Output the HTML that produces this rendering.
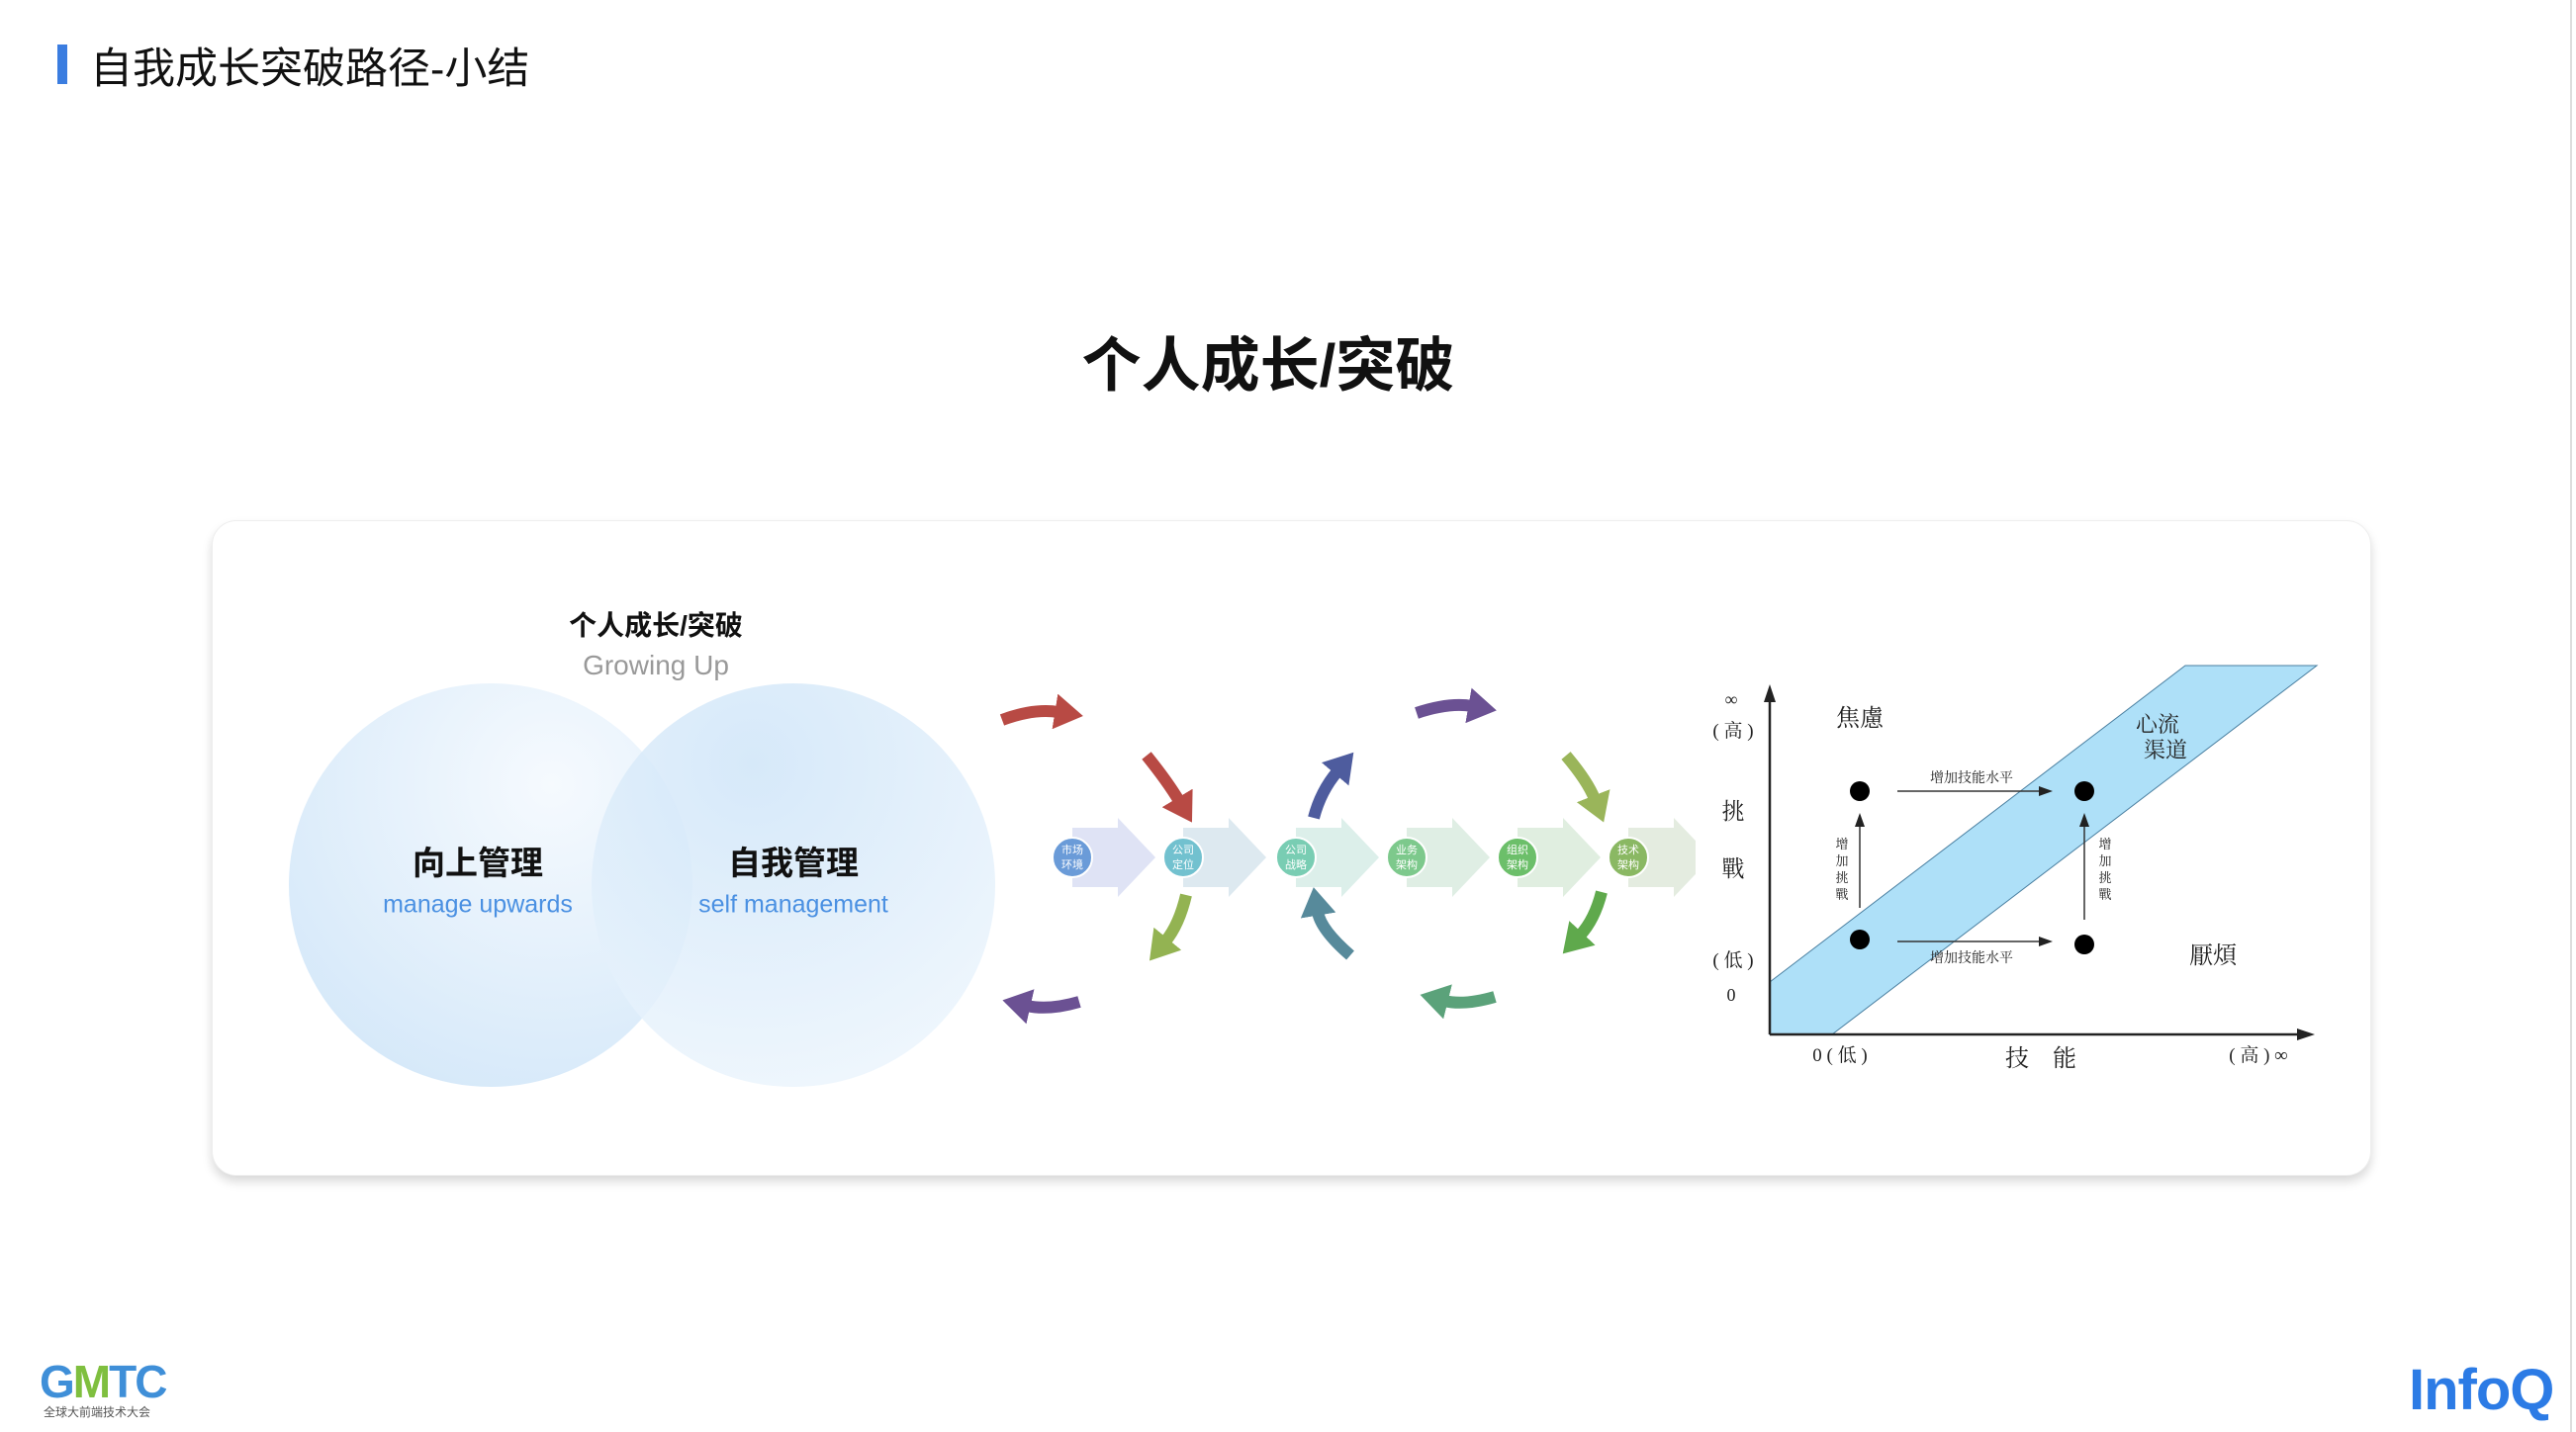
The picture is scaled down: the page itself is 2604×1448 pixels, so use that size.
<!DOCTYPE html>
<html><head><meta charset="utf-8"><style>
body{margin:0;width:2604px;height:1448px;background:#fff;position:relative;overflow:hidden;font-family:"Liberation Sans","Noto Sans CJK SC",sans-serif}
.a{position:absolute;white-space:nowrap}
.c{transform:translate(-50%,-50%)}
</style></head><body>
<div class="a" style="left:58px;top:45px;width:10px;height:40px;background:#3b7de0"></div>
<div class="a" style="left:91px;top:66px;transform:translateY(-50%);font-size:43px;color:#111">自我成长突破路径-小结</div>
<div class="a" style="left:2598px;top:0;width:2px;height:1448px;background:#ddd"></div>
<div class="a c" style="left:1282px;top:365px;font-size:60px;font-weight:bold;color:#111">个人成长/突破</div>
<div class="a" style="left:214px;top:526px;width:2181px;height:661px;border-radius:25px;border:1px solid #eee;box-shadow:0 6px 10px rgba(0,0,0,0.15);background:#fff"></div>
<div class="a" style="left:292px;top:691px;width:408px;height:408px;border-radius:50%;background:radial-gradient(circle at 65% 25%,#f4f9fe,#cfe5f8 80%);opacity:.85"></div>
<div class="a" style="left:598px;top:691px;width:408px;height:408px;border-radius:50%;background:radial-gradient(circle at 40% 20%,#cfe5f8,#eef6fd 90%);opacity:.85"></div>
<div class="a c" style="left:663px;top:631px;font-size:28px;font-weight:bold;color:#111">个人成长/突破</div>
<div class="a c" style="left:663px;top:673px;font-size:28px;color:#999">Growing Up</div>
<div class="a c" style="left:483px;top:870px;font-size:33px;font-weight:bold;color:#111">向上管理</div>
<div class="a c" style="left:483px;top:915px;font-size:25px;color:#4a90e2">manage upwards</div>
<div class="a c" style="left:802px;top:870px;font-size:33px;font-weight:bold;color:#111">自我管理</div>
<div class="a c" style="left:802px;top:915px;font-size:25px;color:#4a90e2">self management</div>

<svg class="a" style="left:0;top:0" width="2604" height="1448" viewBox="0 0 2604 1448">
<defs><marker id="m" markerWidth="2.4" markerHeight="3" refX="0.3" refY="1.5" orient="auto" markerUnits="strokeWidth"><path d="M0,0L2.4,1.5L0,3z" fill="context-stroke"/></marker>
<g id="chev"><path d="M0,837H46V827L84,867L46,907V897H0z"/></g>
<clipPath id="cl"><rect x="0" y="0" width="1714" height="1448"/></clipPath></defs>
<g>
<use href="#chev" x="1084" fill="#dfe3f5"/>
<use href="#chev" x="1196" fill="#dde9f0"/>
<use href="#chev" x="1310" fill="#dcefea"/>
<use href="#chev" x="1422" fill="#dfeee4"/>
<use href="#chev" x="1534" fill="#e0eee0"/>
<g clip-path="url(#cl)"><use href="#chev" x="1646" fill="#e4ece0"/></g>
</g>
<g font-size="11" fill="#fff" text-anchor="middle" font-family="Liberation Sans,Noto Sans CJK SC,sans-serif">
<circle cx="1084" cy="867" r="20" fill="#6a9bd8" stroke="#fff" stroke-width="2"/><text x="1084" y="863">市场</text><text x="1084" y="878">环境</text>
<circle cx="1196" cy="867" r="20" fill="#72c1cf" stroke="#fff" stroke-width="2"/><text x="1196" y="863">公司</text><text x="1196" y="878">定位</text>
<circle cx="1310" cy="867" r="20" fill="#79cdb3" stroke="#fff" stroke-width="2"/><text x="1310" y="863">公司</text><text x="1310" y="878">战略</text>
<circle cx="1422" cy="867" r="20" fill="#7dc98c" stroke="#fff" stroke-width="2"/><text x="1422" y="863">业务</text><text x="1422" y="878">架构</text>
<circle cx="1534" cy="867" r="20" fill="#6cbf6a" stroke="#fff" stroke-width="2"/><text x="1534" y="863">组织</text><text x="1534" y="878">架构</text>
<circle cx="1646" cy="867" r="20" fill="#8ab863" stroke="#fff" stroke-width="2"/><text x="1646" y="863">技术</text><text x="1646" y="878">架构</text>
</g>
<g fill="none" stroke-width="12" marker-end="url(#m)">
<path d="M1013,728Q1045,716 1070,720" stroke="#b84a44"/>
<path d="M1159,764Q1180,790 1192,810" stroke="#b84a44"/>
<path d="M1199,905Q1192,935 1178,952" stroke="#93b352"/>
<path d="M1091,1013Q1060,1022 1038,1017" stroke="#6b5193"/>
<path d="M1328,827Q1335,800 1352,780" stroke="#4e5c9e"/>
<path d="M1365,966Q1335,940 1332,922" stroke="#578a9b"/>
<path d="M1432,721Q1465,710 1488,714" stroke="#6b5193"/>
<path d="M1583,764Q1605,790 1612,808" stroke="#9ab55a"/>
<path d="M1619,902Q1612,930 1597,946" stroke="#5fa94c"/>
<path d="M1511,1008Q1480,1017 1460,1012" stroke="#5ba27a"/>
</g>
<!-- chart -->
<polygon points="1789,993 2209,673 2342,673 1852,1046 1789,1046" fill="#aee0f8" stroke="#4a7fa0" stroke-width="1"/>
<g stroke="#222" stroke-width="2.5" fill="none"><path d="M1789,1046V700"/><path d="M1789,1046H2330"/></g>
<polygon points="1789,692 1783,710 1795,710" fill="#222"/>
<polygon points="2340,1046 2322,1040 2322,1052" fill="#222"/>
<g fill="#000"><circle cx="1880" cy="800" r="10"/><circle cx="2107" cy="800" r="10"/><circle cx="1880" cy="950" r="10"/><circle cx="2107" cy="955" r="10"/></g>
<g stroke="#333" stroke-width="1.5"><path d="M1918,800H2065"/><path d="M1918,952H2065"/><path d="M1880,918V832"/><path d="M2107,930V832"/></g>
<g fill="#222"><polygon points="2075,800 2061,795 2061,805"/><polygon points="2075,952 2061,947 2061,957"/><polygon points="1880,822 1875,836 1885,836"/><polygon points="2107,822 2102,836 2112,836"/></g>
<g font-family="Liberation Serif,Noto Serif CJK SC,serif" fill="#222" text-anchor="middle">
<text x="1880" y="734" font-size="24">焦慮</text>
<text x="2181" y="740" font-size="22">心流</text><text x="2189" y="766" font-size="22">渠道</text>
<text x="2237" y="974" font-size="24">厭煩</text>
<text x="1752" y="828" font-size="23">挑</text><text x="1752" y="886" font-size="23">戰</text>
<text x="1750" y="713" font-size="18">∞</text><text x="1752" y="745" font-size="19">( 高 )</text>
<text x="1752" y="977" font-size="19">( 低 )</text><text x="1750" y="1012" font-size="18">0</text>
<text x="1860" y="1073" font-size="19">0 ( 低 )</text>
<text x="2063" y="1078" font-size="24">技　能</text>
<text x="2283" y="1073" font-size="19">( 高 ) ∞</text>
<text x="1993" y="791" font-size="14">增加技能水平</text><text x="1993" y="973" font-size="14">增加技能水平</text>
<g font-size="13"><text x="1862" y="858">增</text><text x="1862" y="875">加</text><text x="1862" y="892">挑</text><text x="1862" y="909">戰</text>
<text x="2128" y="858">增</text><text x="2128" y="875">加</text><text x="2128" y="892">挑</text><text x="2128" y="909">戰</text></g>
</g>
</svg>
<div class="a" style="left:40px;top:1370px;font-size:46px;font-weight:bold;color:#3f8fd8;letter-spacing:-2px">G<span style="color:#7fbf3f">M</span>TC</div>
<div class="a" style="left:44px;top:1419px;font-size:12px;color:#555">全球大前端技术大会</div>
<div class="a" style="left:2435px;top:1372px;font-size:58px;font-weight:bold;color:#2c7be5;letter-spacing:-1px">InfoQ</div>
</body></html>
